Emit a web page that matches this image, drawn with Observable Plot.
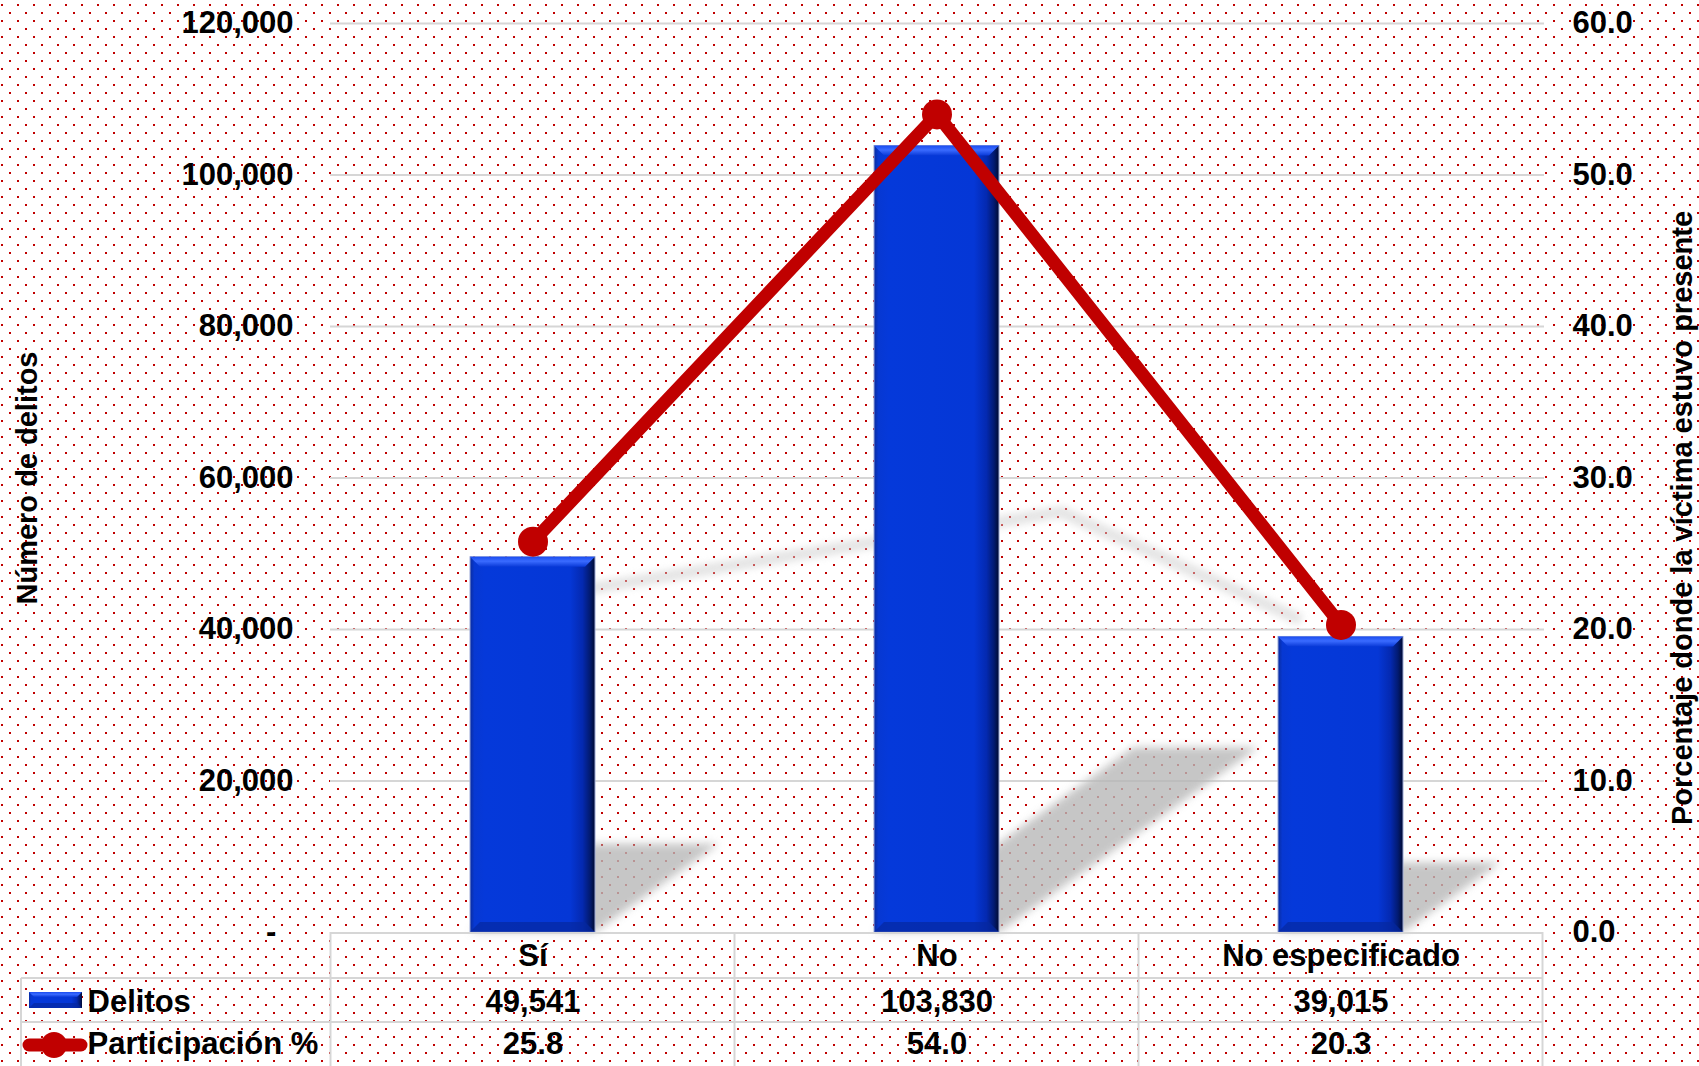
<!DOCTYPE html>
<html><head><meta charset="utf-8">
<script src="https://cdn.jsdelivr.net/npm/d3@7"></script>
<script src="https://cdn.jsdelivr.net/npm/@observablehq/plot@0.6"></script>
<style>
html,body{margin:0;padding:0;}
body{width:1699px;height:1066px;overflow:hidden;background-color:#fff;
background-image:url("data:image/svg+xml,%3Csvg xmlns='http://www.w3.org/2000/svg' width='16' height='16'%3E%3Crect x='1' y='4' width='2' height='2' fill='%23C00000'/%3E%3Crect x='9' y='12' width='2' height='2' fill='%23C00000'/%3E%3C/svg%3E");}
#chart svg{display:block;}
</style></head><body><div id="chart"></div>
<script>
// ---- data ----
const categories = ["Sí", "No", "No especificado"];
const delitos = [49541, 103830, 39015];
const participacion = [25.8, 54.0, 20.3];
const leftTicks = [0, 20000, 40000, 60000, 80000, 100000, 120000];
const rightTicks = [0, 10, 20, 30, 40, 50, 60];
const seriesNames = ["Delitos", "Participación %"];
const yTitleLeft = "Número de delitos";
const yTitleRight = "Porcentaje donde la víctima estuvo presente";

const RATIO = 120000 / 60; // right axis 0–60 shares the left 0–120,000 scale
const data = categories.map((c, i) => ({cat: c, delitos: delitos[i], pct: participacion[i], pctY: participacion[i] * RATIO}));

const W = 1699, H = 1066, ML = 330, MR = 155, MT = 23, MB = 134;
const font = "'Liberation Sans', Arial, Helvetica, sans-serif";
const fmtN = d3.format(",");
const SHADOW_FILL = "#b8b8b8", LSHADOW = "#d0d0d0", BARFILL = "url(#barGrad)";
const T = {fontSize: 31, fontWeight: "bold", lineAnchor: "middle"};

const plot = Plot.plot({
  width: W, height: H,
  marginLeft: ML, marginRight: MR, marginTop: MT, marginBottom: MB,
  style: {background: "none", fontFamily: font, fontWeight: "bold", fontSize: "31px", color: "#000", overflow: "visible"},
  x: {domain: categories, paddingInner: 0.69, paddingOuter: 0.345, axis: null},
  y: {domain: [0, 120000], axis: null},
  marks: [
    Plot.ruleY(leftTicks.filter(d => d > 0), {stroke: "#d6d6d6", strokeWidth: 2}),
    Plot.barY(data, {x: "cat", y: "delitos", fill: SHADOW_FILL}),
    Plot.line(data, {x: "cat", y: "pctY", stroke: LSHADOW, strokeWidth: 12}),
    Plot.barY(data, {x: "cat", y: "delitos", fill: BARFILL}),
    Plot.line(data, {x: "cat", y: "pctY", stroke: "#C00000", strokeWidth: 13, strokeLinejoin: "round"}),
    Plot.dot(data, {x: "cat", y: "pctY", r: 15, fill: "#C00000", stroke: "none"}),
    // left tick labels
    Plot.text(leftTicks, {...T, y: d => d, frameAnchor: "left", textAnchor: "end", dx: -37,
      text: d => d === 0 ? "-\u00a0\u00a0" : fmtN(d)}),
    // right tick labels
    Plot.text(rightTicks, {...T, y: d => d * RATIO, frameAnchor: "right", textAnchor: "start", dx: 28,
      text: d => d.toFixed(1)}),
    // axis titles
    Plot.text([yTitleLeft], {...T, fontSize: 29, frameAnchor: "left", textAnchor: "middle", rotate: -90, dx: 27 - ML, text: d => d}),
    Plot.text([yTitleRight], {...T, fontSize: 29, frameAnchor: "right", textAnchor: "middle", rotate: -90, dx: 138, dy: 40, text: d => d}),
    // data table
    Plot.text(data, {...T, x: "cat", frameAnchor: "bottom", dy: 24, text: "cat"}),
    Plot.text(data, {...T, x: "cat", frameAnchor: "bottom", dy: 70, text: d => fmtN(d.delitos)}),
    Plot.text(data, {...T, x: "cat", frameAnchor: "bottom", dy: 112, text: d => d.pct.toFixed(1)}),
    Plot.text([seriesNames[0]], {...T, frameAnchor: "bottom-left", textAnchor: "start", dx: 87 - ML, dy: 70, text: d => d}),
    Plot.text([seriesNames[1]], {...T, frameAnchor: "bottom-left", textAnchor: "start", dx: 87 - ML, dy: 112, text: d => d})
  ]
});
document.getElementById("chart").appendChild(plot);

// ---- decorations (gradients, shadows, table grid, legend keys) ----
const svg = d3.select(plot);
const defs = svg.insert("defs", ":first-child");
const grad = defs.append("linearGradient").attr("id", "barGrad").attr("x1", 0).attr("x2", 1).attr("y1", 0).attr("y2", 0);
[[0, "#0a2c9e"], [0.035, "#0738d2"], [0.12, "#0539da"], [0.8, "#0537d6"], [0.9, "#0429b0"], [0.96, "#021a70"], [1, "#000a30"]]
  .forEach(([o, c]) => grad.append("stop").attr("offset", o).attr("stop-color", c));
const topG = defs.append("linearGradient").attr("id", "topGrad").attr("x1", 0).attr("x2", 0).attr("y1", 0).attr("y2", 1);
[[0, "#1a4cf0"], [0.45, "#3a6bff"], [1, "#0a3ad8"]].forEach(([o, c]) => topG.append("stop").attr("offset", o).attr("stop-color", c));
const f1 = defs.append("filter").attr("id", "blurA").attr("x", "-30%").attr("y", "-30%").attr("width", "160%").attr("height", "160%");
f1.append("feGaussianBlur").attr("stdDeviation", 4);
const f2 = defs.append("filter").attr("id", "blurB").attr("x", "-30%").attr("y", "-60%").attr("width", "160%").attr("height", "220%");
f2.append("feGaussianBlur").attr("stdDeviation", 3.5);

const ys = plot.scale("y"), xs = plot.scale("x");
const y0 = ys.apply(0);

function wrap(node, filterId, opacity) {
  if (!node) return;
  const w = document.createElementNS("http://www.w3.org/2000/svg", "g");
  node.parentNode.insertBefore(w, node);
  w.appendChild(node);
  d3.select(w).attr("filter", `url(#${filterId})`).attr("opacity", opacity);
}
function findGroup(attr, value, tag) {
  const all = Array.from(plot.querySelectorAll("g"));
  return all.find(g => g.getAttribute(attr) === value && g.querySelector(tag)) || null;
}
const bsNode = findGroup("fill", SHADOW_FILL, "rect");
if (bsNode) {
  d3.select(bsNode).attr("transform", `translate(0,${y0}) matrix(1,0,-0.33,0.235,0,0) translate(0,${-y0})`);
  wrap(bsNode, "blurA", 0.8);
}
const lsNode = findGroup("stroke", LSHADOW, "path");
if (lsNode) {
  d3.select(lsNode).attr("transform", `translate(-83,${y0 - 250}) matrix(1,0,-0.33,0.208,0,0) translate(0,${-y0})`);
  d3.select(lsNode).selectAll("path").attr("vector-effect", "non-scaling-stroke");
  wrap(lsNode, "blurB", 0.55);
}

// bevels on bars
const barsNode = findGroup("fill", BARFILL, "rect");
if (barsNode) {
  const bars = d3.select(barsNode);
  bars.selectAll("rect").each(function() {
    const r = d3.select(this);
    const x = +r.attr("x"), y = +r.attr("y"), w = +r.attr("width"), h = +r.attr("height");
    const b = 10;
    r.attr("stroke", "#9aa8d8").attr("stroke-width", 1);
    bars.append("polygon").attr("points", `${x},${y} ${x + w},${y} ${x + w - b},${y + b} ${x + b},${y + b}`).attr("fill", "url(#topGrad)");
    bars.append("polygon").attr("points", `${x},${y + h} ${x + b},${y + h - b} ${x + w - b},${y + h - b} ${x + w},${y + h}`).attr("fill", "#0628a0").attr("opacity", 0.7);
  });
}

// table grid
const bw = xs.bandwidth, step = xs.step;
const centers = categories.map(c => xs.apply(c) + bw / 2);
const edges = [centers[0] - step / 2, ...centers.map(c => c + step / 2)];
const tbl = svg.append("g").attr("stroke", "#d6d6d6").attr("stroke-width", 2);
const rowLines = [y0 + 46, y0 + 90];
tbl.append("line").attr("x1", edges[0]).attr("x2", edges[3]).attr("y1", y0 + 1).attr("y2", y0 + 1);
rowLines.forEach(yy => tbl.append("line").attr("x1", 21).attr("x2", edges[3]).attr("y1", yy).attr("y2", yy));
edges.forEach(ex => tbl.append("line").attr("x1", ex).attr("x2", ex).attr("y1", y0).attr("y2", H));
tbl.append("line").attr("x1", 21).attr("x2", 21).attr("y1", rowLines[0]).attr("y2", H);

// legend keys
const lg = svg.append("g");
lg.append("rect").attr("x", 29).attr("y", 992).attr("width", 53).attr("height", 16).attr("fill", "url(#barGrad)");
lg.append("polygon").attr("points", "29,992 82,992 77,997 34,997").attr("fill", "url(#topGrad)");
lg.append("polygon").attr("points", "29,1008 34,1003 77,1003 82,1008").attr("fill", "#0628a0").attr("opacity", 0.7);
lg.append("line").attr("x1", 29).attr("x2", 81).attr("y1", 1045).attr("y2", 1045).attr("stroke", "#C00000").attr("stroke-width", 13).attr("stroke-linecap", "round");
lg.append("circle").attr("cx", 54).attr("cy", 1045).attr("r", 13).attr("fill", "#C00000");
</script></body></html>
